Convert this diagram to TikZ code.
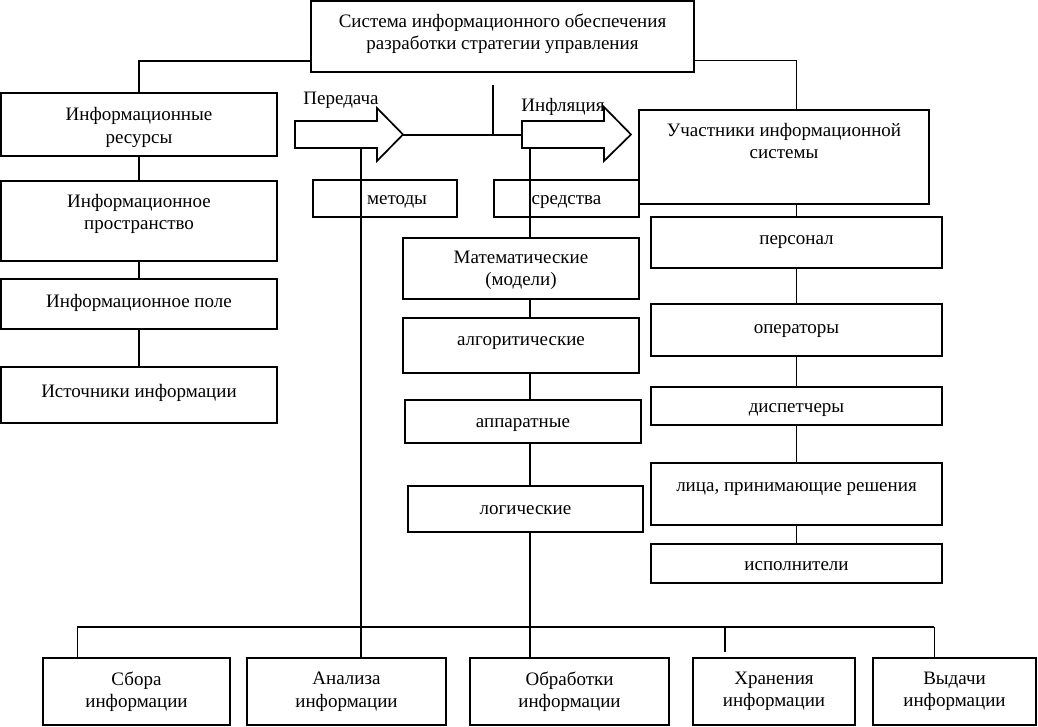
\documentclass[tikz,border=0pt]{standalone}
\usepackage{fontspec}
\setmainfont{Liberation Serif}
\usetikzlibrary{calc,backgrounds}
\newcommand{\myfz}{\fontsize{19}{22.5}\selectfont}
\begin{document}
\begin{tikzpicture}[x=1pt,y=-1pt,
  box/.style={draw, line width=1.7pt, fill=white, inner sep=0pt, align=center, font=\myfz},
  hollow/.style={draw, line width=1.7pt, inner sep=0pt, align=center, font=\myfz},
  txt/.style={inner sep=0pt, align=center, font=\myfz},
  med/.style={line width=1.6pt},
  thinl/.style={line width=0.9pt},
  busl/.style={line width=2pt},
  arr/.style={draw, line width=1.7pt, fill=white, line join=miter}]
\useasboundingbox (0,0) rectangle (1038,726);

% top
\node[box,minimum width=383pt,minimum height=71pt,label={[txt,yshift=3pt]center:{Система информационного обеспечения\\разработки стратегии управления}}] (top) at (502.5,36.5) {};

% left column
\node[box,minimum width=276pt,minimum height=63pt,label={[txt,yshift=-3pt]center:{Информационные\\ресурсы}}] (res) at (139,124.5) {};
\node[box,minimum width=276pt,minimum height=80pt,label={[txt,yshift=7pt]center:{Информационное\\пространство}}] (space) at (139,221) {};
\node[box,minimum width=276pt,minimum height=50pt,label={[txt,yshift=1pt]center:{Информационное поле}}] (field) at (139,304) {};
\node[box,minimum width=276pt,minimum height=56pt,label={[txt,yshift=2pt]center:{Источники информации}}] (src) at (139,395) {};

% methods / means
\node[hollow,minimum width=144pt,minimum height=37pt,label={[txt,xshift=12pt,yshift=-3pt]center:{методы}}] (met) at (385,198.5) {};
\node[hollow,minimum width=145pt,minimum height=37pt,label={[txt,yshift=-4pt]center:{средства}}] (sred) at (566.5,198.5) {};

% participants
\node[box,minimum width=290pt,minimum height=94pt,label={[txt,yshift=16pt]center:{Участники информационной\\системы}}] (uch) at (784,157) {};

% middle column
\node[box,minimum width=236pt,minimum height=61pt,label={[txt,yshift=-2pt]center:{Математические\\(модели)}}] (math) at (521,268.5) {};
\node[box,minimum width=236pt,minimum height=55pt,label={[txt,yshift=2pt]center:{алгоритические}}] (alg) at (521,345.5) {};
\node[box,minimum width=236pt,minimum height=43pt,label={[txt,yshift=-4pt]center:{аппаратные}}] (app) at (523,421.5) {};
\node[box,minimum width=235pt,minimum height=46pt,label={[txt,yshift=-1pt]center:{логические}}] (log) at (525.5,509) {};

% right column
\node[box,minimum width=291pt,minimum height=51pt,label={[txt,yshift=0pt]center:{персонал}}] (pers) at (796.5,242.5) {};
\node[box,minimum width=291pt,minimum height=52pt,label={[txt,yshift=-1pt]center:{операторы}}] (oper) at (796.5,330) {};
\node[box,minimum width=291pt,minimum height=38pt,label={[txt,yshift=-4pt]center:{диспетчеры}}] (disp) at (796.5,406) {};
\node[box,minimum width=291pt,minimum height=62pt,label={[txt,yshift=5pt]center:{лица, принимающие решения}}] (lica) at (796.5,494) {};
\node[box,minimum width=291pt,minimum height=39pt,label={[txt,yshift=-3pt]center:{исполнители}}] (isp) at (796.5,563.5) {};

% bottom row
\node[box,minimum width=187pt,minimum height=67pt] (sbor) at (136.5,691.5) {Сбора\\информации};
\node[box,minimum width=199pt,minimum height=67pt] (anal) at (346.5,691.5) {Анализа\\информации};
\node[box,minimum width=199pt,minimum height=67pt] (obr) at (569.5,691.5) {Обработки\\информации};
\node[box,minimum width=162pt,minimum height=67pt] (hran) at (774,691.5) {Хранения\\информации};
\node[box,minimum width=163pt,minimum height=67pt] (vyd) at (954.5,691.5) {Выдачи\\информации};

% arrow labels
\node[txt] (lblP) at (341,100) {Передача};
\node[txt] (lblI) at (563,107) {Инфляция};

% block arrows
\draw[arr] (295,121) -- (377,121) -- (377,108) -- (403,134.5) -- (377,161) -- (377,148) -- (295,148) -- cycle;
\draw[arr] (522,121) -- (604,121) -- (604,107) -- (631,134.5) -- (604,161) -- (604,148) -- (522,148) -- cycle;

\coordinate (pTip) at (403,135);
\coordinate (iTail) at (522,135);
\coordinate (vTop) at (493,85);
\coordinate (vBot) at (493,135);
\coordinate (pFoot) at (361,149);
\coordinate (iFoot) at (530,149);
\coordinate (b1) at (77,627);
\coordinate (b4) at (725,627);
\coordinate (h4) at (725,652);
\coordinate (b5) at (934,627);

\begin{scope}[on background layer]
  \draw[med] (pTip) -- (iTail);
  \draw[med] (vTop) -- (vBot);
  \draw[med] (pFoot) -- (pFoot |- anal.north);
  \draw[med] (iFoot) -- (iFoot |- obr.north);
  \draw[med] ($(top.south west)+(0,-12)$) -| (res.north);
  \draw[thinl] ($(top.south east)+(0,-12)$) -| (uch.north -| pers.north);
  \draw[med] (res.south) -- (space.north) (space.south) -- (field.north) (field.south) -- (src.north);
  \draw[thinl] (uch.south -| pers.north) -- (pers.north);
  \draw[thinl] (pers.south) -- (oper.north) (oper.south) -- (disp.north) (disp.south) -- (lica.north) (lica.south) -- (isp.north);
  \draw[busl] (b1) -- (b5);
  \draw[thinl] (b1) -- (b1 |- sbor.north);
  \draw[med] (b4) -- (h4);
  \draw[thinl] (b5) -- (b5 |- vyd.north);
\end{scope}
\end{tikzpicture}
\end{document}
